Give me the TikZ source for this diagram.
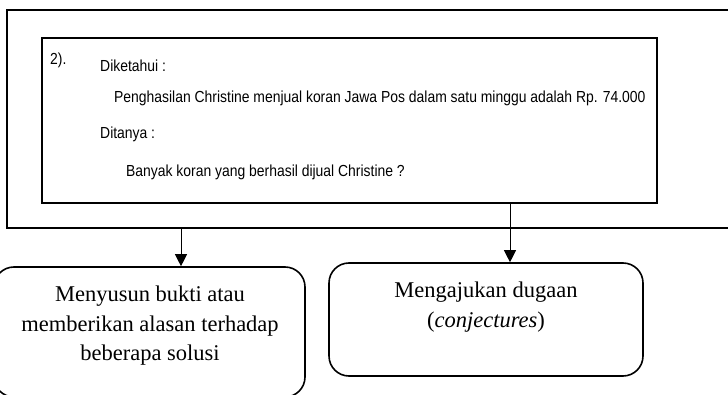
\documentclass[tikz,border=0pt]{standalone}
\usepackage{fontspec}
\setmainfont{Liberation Serif}
\newfontfamily\handfont[FakeStretch=0.87]{Liberation Sans}
\usetikzlibrary{arrows.meta,fit}
\begin{document}
\begin{tikzpicture}[x=1pt,y=-1pt,
  frame/.style={draw, line width=1.6pt, inner sep=0pt},
  roundbox/.style={draw, line width=1.6pt, rounded corners=20pt, inner sep=0pt},
  link/.style={line width=0.8pt, -{Triangle[width=12pt,length=12pt]}},
  note/.style={font=\handfont\fontsize{16}{18}\selectfont, inner sep=0pt, anchor=west},
  boxtext/.style={font=\fontsize{22.5}{29.5}\selectfont, align=center, inner sep=0pt}]
\useasboundingbox (0,0) rectangle (728,395);
\clip (0,0) rectangle (728,395);

% outer frame and the scanned answer sheet
\node[frame, fit={(7,10) (745,228)}] (outer) {};
\node[frame, fit={(42,38) (657,203)}] (inner) {};

% answer written on the sheet
\node[note] (num)   at (50,60)  {2).};
\node[note] (known) at (100,66) {Diketahui :};
\node[note] (fact)  at (114,98) {Penghasilan Christine menjual koran Jawa Pos dalam satu minggu adalah Rp. 74.000};
\node[note] (asked) at (100,134) {Ditanya :};
\node[note] (quest) at (126,172) {Banyak koran yang berhasil dijual Christine ?};

% indicator boxes
\node[roundbox, fit={(-6,267) (305,397)}] (proof) {};
\node[roundbox, fit={(329,263) (643,376)}] (guess) {};
\node[boxtext] (prooftext) at (150,326) {Menyusun bukti atau\\memberikan alasan terhadap\\beberapa solusi};
\node[boxtext] (guesstext) at (486,307) {Mengajukan dugaan\\(\textit{conjectures})};

% connectors
\coordinate (s1) at (181,228);
\coordinate (s2) at (510,203);
\draw[link] (s1) -- (s1 |- proof.north);
\draw[link] (s2) -- (s2 |- guess.north);
\end{tikzpicture}
\end{document}
